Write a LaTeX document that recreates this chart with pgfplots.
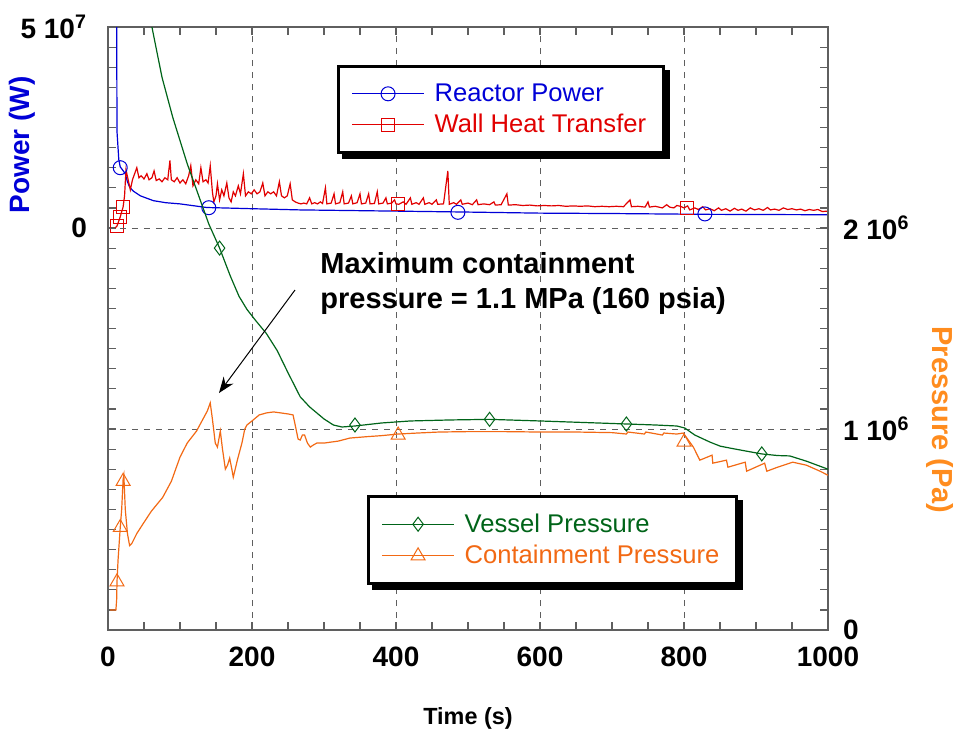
\documentclass[border=0pt]{standalone}
\usepackage{fontspec}
\setmainfont{Liberation Sans}
\usepackage{pgfplots}
\pgfplotsset{compat=1.18}
\usetikzlibrary{arrows.meta}

\definecolor{pwr}{RGB}{0,0,215}
\definecolor{wht}{RGB}{225,0,0}
\definecolor{vsl}{RGB}{0,100,25}
\definecolor{cnt}{RGB}{242,105,20}
\definecolor{plab}{RGB}{255,140,30}
\definecolor{axgray}{RGB}{95,95,95}

\pgfplotsset{
  every axis/.append style={
    width=360pt, height=301.5pt, scale only axis,
    xmin=0, xmax=1000,
    axis line style={axgray, line width=0.75pt},
    every tick/.style={axgray, line width=0.6pt},
    major tick length=4pt, minor tick length=4pt,
    tick align=inside,
    tick label style={font=\bfseries\fontsize{14}{14}\selectfont},
    grid style={axgray, dashed, line width=0.5pt},
    scaled ticks=false,
    legend image code/.code={\draw[mark repeat=2,mark phase=2,#1] plot coordinates {(0pt,0pt) (18pt,0pt) (36pt,0pt)}; \path (39pt,0pt);},
  },
  boxleg/.style={legend style={anchor=north west, draw=black, line width=1.5pt, fill=white,
    font=\fontsize{12.8}{14}\selectfont, cells={anchor=west}, row sep=1pt,
    inner xsep=6.5pt, inner ysep=6.5pt}},
}

\begin{document}
\begin{tikzpicture}
% left axis: power
\begin{axis}[
  ymin=-1e8, ymax=5e7,
  xtick={0,200,400,600,800,1000}, xticklabels={0,200,400,600,800,1000},
  minor x tick num=3,
  xmajorgrids,
  xticklabel style={yshift=-5pt},
  ytick={-1e8,-5e7,0,5e7}, yticklabels={,,0,5 10\textsuperscript{7}},
  minor y tick num=9,
  ytick pos=left,
  yticklabel style={xshift=-7pt},
  boxleg, legend style={at={(0.318,0.937)}, name=leg1},
]
\addplot[pwr, line width=0.6pt, forget plot] table {
12 5.5e7
12.5 2.4e7
15 1.7e7
17 1.52e7
20 1.45e7
24 1.35e7
27 1.15e7
30 1.02e7
35 9.2e6
45 8.0e6
63 6.8e6
80 6.3e6
100 6.0e6
137 5.1e6
200 4.8e6
267 4.5e6
400 4.2e6
485 4.0e6
600 3.7e6
700 3.6e6
830 3.4e6
1000 3.3e6
};
\addplot[pwr, only marks, mark=o, mark size=3.5pt, mark options={line width=0.5pt}, forget plot] coordinates {
(17,1.5e7) (140,5.05e6) (486,3.9e6) (829,3.5e6)
};
\addplot[wht, line width=0.6pt, forget plot] table {
10 0
12.5 0.5e6
17 2.75e6
21 5.25e6
23 8e6
25 1.45e7
28 1.2e7
31 9.5e6
34 1.2e7
37 1.35e7
40 1.5e7
43 1.25e7
46 1.3e7
50 1.22e7
54 1.35e7
57 1.2e7
61 1.25e7
64 1.42e7
67 1.18e7
71 1.22e7
75 1.15e7
79 1.25e7
83 1.2e7
86 1.68e7
88 1.2e7
92 1.15e7
96 1.25e7
100 1.12e7
104 1.2e7
108 1.1e7
112 1.3e7
115 1.55e7
118 1.05e7
122 1.2e7
126 1.1e7
129 1.5e7
132 1.15e7
136 1.2e7
139 1.12e7
142 1.55e7
145 9e6
147 6.5e6
150 8e6
152 1.1e7
155 7e6
158 9.5e6
161 8e6
165 1.12e7
168 7.5e6
171 6.5e6
174 9e6
177 8e6
181 1.05e7
184 8.5e6
188 1.35e7
191 8e6
195 9e6
199 8.5e6
203 9.5e6
207 8.5e6
211 9e6
215 1.12e7
218 8e6
222 9e6
226 8.5e6
230 9e6
234 8e6
238 1.15e7
241 8e6
245 7.5e6
249 8e6
253 1.1e7
256 7e6
260 6.5e6
264 6.2e6
268 6e6
272 6.2e6
276 6e6
280 7.5e6
283 6e6
287 6.3e6
291 6e6
295 6.5e6
298 6.1e6
302 1e7
304 6e6
310 6.2e6
314 8.5e6
316 6e6
322 6.3e6
326 9e6
328 6e6
334 6.2e6
338 8e6
340 6e6
346 6.3e6
350 8.5e6
352 6e6
358 6.2e6
362 8.5e6
364 6e6
370 6.1e6
374 9e6
376 6e6
382 6.2e6
386 7.5e6
388 6e6
394 6.2e6
398 7e6
400 6e6
404 5.9e6
410 6.5e6
414 5.9e6
420 7.5e6
422 5.9e6
428 6.3e6
432 5.9e6
438 7.5e6
440 5.9e6
446 6.3e6
450 5.9e6
456 7e6
458 5.9e6
466 6e6
472 1.42e7
474 5.9e6
480 6.3e6
484 5.9e6
490 7e6
492 5.9e6
500 6.2e6
506 5.8e6
512 7e6
514 5.8e6
522 6e6
530 5.8e6
536 6.5e6
538 5.7e6
546 5.8e6
554 8.5e6
556 5.7e6
566 5.8e6
576 5.6e6
586 5.7e6
596 5.5e6
606 5.6e6
616 5.5e6
626 5.6e6
636 5.4e6
646 5.5e6
656 5.4e6
666 5.5e6
676 5.3e6
686 5.4e6
696 5.3e6
706 5.4e6
716 5.3e6
725 7e6
727 5.3e6
736 5.4e6
746 5.2e6
750 6.5e6
752 5.2e6
760 5.4e6
770 5e6
776 5.8e6
780 5.2e6
786 5e6
790 5.6e6
795 5.4e6
800 5e6
805 5.5e6
808 4.5e6
815 5e6
820 4.6e6
826 5.3e6
830 4.5e6
836 4.8e6
842 4.3e6
848 5e6
852 4.4e6
858 4.8e6
864 4.2e6
870 4.9e6
875 4.4e6
880 4.7e6
886 4.2e6
892 5e6
898 4.5e6
904 4.8e6
910 4.4e6
916 5.1e6
920 4.5e6
926 4.7e6
932 4.4e6
938 5e6
944 4.6e6
950 4.8e6
956 4.5e6
962 4.7e6
968 4.3e6
974 4.6e6
980 4.4e6
986 4.6e6
992 4.1e6
1000 4.2e6
};
\addplot[wht, only marks, mark=square, mark size=3.3pt, mark options={line width=0.5pt}, forget plot] coordinates {
(12.5,0.5e6) (17,2.75e6) (21,5.25e6) (403,6e6) (804,5e6)
};
\addlegendimage{pwr, line width=0.6pt, mark=o, mark size=3.5pt, mark options={line width=0.5pt}}
\addlegendentry{\textcolor{pwr}{Reactor Power}}
\addlegendimage{wht, line width=0.6pt, mark=square, mark size=3.3pt, mark options={line width=0.5pt}}
\addlegendentry{\textcolor{wht}{Wall Heat Transfer}}
\end{axis}

% right axis: pressure
\begin{axis}[
  ymin=0, ymax=3e6,
  axis x line=none,
  axis y line*=right,
  tick align=inside,
  ytick={0,1e6,2e6,3e6}, yticklabels={0,1 10\textsuperscript{6},2 10\textsuperscript{6},},
  minor y tick num=9,
  ymajorgrids,
  yticklabel style={xshift=4pt},
  boxleg, legend style={at={(0.3597,0.2239)}, name=leg2},
]
\addplot[vsl, line width=0.6pt, forget plot] table {
50 3.25e6
61 3.0e6
75 2.75e6
90 2.55e6
110 2.32e6
128 2.14e6
140 2.02e6
155 1.9e6
170 1.76e6
182 1.66e6
193 1.595e6
205 1.54e6
220 1.475e6
235 1.39e6
250 1.28e6
267 1.16e6
280 1.11e6
290 1.08e6
300 1.05e6
313 1.02e6
325 1.01e6
343 1.015e6
380 1.03e6
420 1.04e6
475 1.045e6
530 1.048e6
600 1.04e6
680 1.03e6
720 1.025e6
760 1.02e6
790 1.015e6
801 1.005e6
815 0.97e6
836 0.935e6
850 0.915e6
864 0.905e6
882 0.893e6
908 0.876e6
930 0.868e6
947 0.866e6
970 0.84e6
1000 0.80e6
};
\addplot[vsl, only marks, mark=diamond, mark size=3.5pt, mark options={line width=0.5pt}, forget plot] coordinates {
(155,1.9e6) (343,1.02e6) (530,1.048e6) (720,1.025e6) (908,0.876e6)
};
\addplot[cnt, line width=0.6pt, forget plot] table {
3 0.1e6
11 0.1e6
12 0.15e6
12.5 0.24e6
14 0.35e6
17 0.51e6
19 0.6e6
21 0.75e6
22 0.77e6
24 0.6e6
27 0.48e6
30 0.42e6
33 0.43e6
40 0.48e6
49 0.53e6
60 0.59e6
76 0.66e6
88 0.74e6
100 0.86e6
110 0.93e6
123 0.99e6
132 1.05e6
138 1.09e6
142 1.13e6
145 1.05e6
149 0.93e6
152 0.91e6
156 0.99e6
159 0.9e6
163 0.8e6
166 0.82e6
169 0.855e6
172 0.8e6
174 0.76e6
180 0.85e6
186 0.93e6
190 1.0e6
193 1.02e6
200 1.04e6
210 1.07e6
220 1.08e6
230 1.085e6
240 1.08e6
250 1.075e6
257 1.07e6
260 1.02e6
264 0.95e6
267 0.945e6
270 0.97e6
273 0.97e6
277 0.93e6
281 0.91e6
285 0.92e6
290 0.93e6
300 0.93e6
320 0.94e6
336 0.955e6
360 0.962e6
380 0.967e6
403 0.975e6
430 0.98e6
460 0.985e6
500 0.987e6
550 0.987e6
600 0.985e6
650 0.985e6
700 0.982e6
720 0.975e6
722 0.985e6
745 0.975e6
747 0.985e6
770 0.97e6
772 0.98e6
790 0.975e6
799 0.98e6
806 0.945e6
813 0.91e6
822 0.845e6
839 0.87e6
840 0.83e6
859 0.845e6
861 0.81e6
885 0.835e6
887 0.79e6
912 0.83e6
915 0.79e6
930 0.81e6
951 0.835e6
970 0.82e6
989 0.79e6
1000 0.77e6
};
\addplot[cnt, only marks, mark=triangle, mark size=4pt, mark options={line width=0.5pt}, forget plot] coordinates {
(12.5,0.24e6) (17,0.51e6) (21,0.74e6) (403,0.97e6) (800,0.935e6)
};
\addlegendimage{vsl, line width=0.6pt, mark=diamond, mark size=3.5pt, mark options={line width=0.5pt}}
\addlegendentry{\textcolor{vsl}{Vessel Pressure}}
\addlegendimage{cnt, line width=0.6pt, mark=triangle, mark size=4pt, mark options={line width=0.5pt}}
\addlegendentry{\textcolor{cnt}{Containment Pressure}}
\end{axis}

% legend shadows
\foreach \L in {leg1,leg2} {
  \fill[black] ([shift={(2.5pt,-2.5pt)}]\L.south west) rectangle ([xshift=2.5pt]\L.south east);
  \fill[black] ([yshift=-2.5pt]\L.north east) rectangle ([xshift=2.5pt]\L.south east);
}

\node[font=\bfseries\fontsize{11.7}{11.7}\selectfont] at (180pt,-44pt) {Time (s)};
\node[rotate=90, text=pwr, font=\bfseries\fontsize{14}{14}\selectfont] at (-43pt,242.5pt) {Power (W)};
\node[rotate=-90, text=plab, font=\bfseries\fontsize{14.5}{14.5}\selectfont] at (416pt,105pt) {Pressure (Pa)};
\node[anchor=north west, align=left, inner sep=0pt, font=\bfseries\fontsize{14.5}{17.5}\selectfont] at (106pt,189pt) {Maximum containment\\pressure = 1.1 MPa (160 psia)};
\draw[-{Stealth[length=8pt,width=6pt]}, line width=0.5pt] (93.5pt,170pt) -- (55.5pt,118.5pt);

\pgfresetboundingbox
\path[use as bounding box] (-54pt,-53pt) rectangle (425.5pt,315pt);
\end{tikzpicture}
\end{document}
